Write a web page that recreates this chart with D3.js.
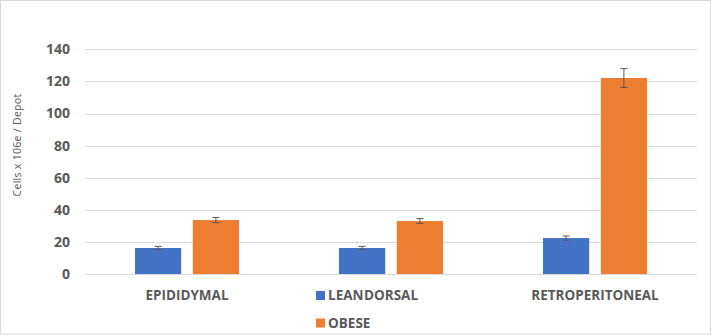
<!DOCTYPE html>
<html>
<head>
<meta charset="utf-8">
<script src="https://cdn.jsdelivr.net/npm/d3@7"></script>
<style>
  html, body { margin: 0; padding: 0; background: #fff; }
  svg { display: block; font-family: "Open Sans", "Liberation Sans", sans-serif; }
</style>
</head>
<body>
<svg id="chart" width="712" height="336"></svg>
<script>
// Adipose depots and cell counts (cells x 10^6 per depot)
const categories = ["EPIDIDYMAL", "DORSAL", "RETROPERITONEAL"];
const seriesNames = ["LEAN", "OBESE"];
const leanValues = [16.2, 16.2, 22.4];
const leanErrors = [1.0, 1.0, 1.3];
const obeseValues = [33.6, 33.0, 122.1];
const obeseErrors = [1.6, 1.5, 5.9];
const yTicks = [0, 20, 40, 60, 80, 100, 120, 140];
const colors = ["#4472C4", "#ED7D31"];

const svg = d3.select("#chart");

// chart frame
svg.append("rect")
  .attr("x", 0.5).attr("y", 0.5)
  .attr("width", 710).attr("height", 333.5)
  .attr("fill", "#fff").attr("stroke", "#d9d9d9");

const plot = { left: 85, right: 697, top: 49.3, bottom: 274 };

const x0 = d3.scaleBand()
  .domain(categories)
  .range([plot.left, plot.right])
  .paddingInner(0.49)
  .paddingOuter(0.245);

const x1 = d3.scaleBand()
  .domain(seriesNames)
  .range([0, x0.bandwidth()])
  .paddingInner(0.2);

const y = d3.scaleLinear()
  .domain([0, 140])
  .range([plot.bottom, plot.top]);

// gridlines
svg.append("g")
  .selectAll("line")
  .data(yTicks)
  .join("line")
  .attr("x1", plot.left).attr("x2", plot.right)
  .attr("y1", d => Math.round(y(d)) + 0.5)
  .attr("y2", d => Math.round(y(d)) + 0.5)
  .attr("stroke", "#d9d9d9")
  .attr("stroke-width", 1);

// y axis labels
const yAxis = d3.axisLeft(y).tickValues(yTicks).tickSize(0).tickPadding(15);
const gy = svg.append("g")
  .attr("transform", `translate(${plot.left},0)`)
  .call(yAxis);
gy.select(".domain").remove();
gy.selectAll("text")
  .attr("fill", "#595959")
  .attr("font-size", 14)
  .attr("font-weight", "bold")
  .attr("font-family", "'Open Sans', sans-serif");

// y axis title
svg.append("text")
  .attr("transform", "translate(21,145) rotate(-90)")
  .attr("text-anchor", "middle")
  .attr("fill", "#595959")
  .attr("font-size", 10.5)
  .attr("letter-spacing", 0.3)
  .text("Cells x 106e / Depot");

// bars
const rows = categories.map((c, i) => ({
  category: c,
  values: [
    { series: "LEAN", value: leanValues[i], err: leanErrors[i] },
    { series: "OBESE", value: obeseValues[i], err: obeseErrors[i] }
  ]
}));

const groups = svg.append("g")
  .selectAll("g")
  .data(rows)
  .join("g")
  .attr("transform", d => `translate(${x0(d.category)},0)`);

groups.selectAll("rect")
  .data(d => d.values)
  .join("rect")
  .attr("x", d => x1(d.series))
  .attr("width", x1.bandwidth())
  .attr("y", d => y(d.value))
  .attr("height", d => y(0) - y(d.value))
  .attr("fill", (d, i) => colors[i]);

// error bars
const eb = groups.selectAll("g.err")
  .data(d => d.values)
  .join("g")
  .attr("class", "err")
  .attr("stroke", "#595959")
  .attr("stroke-width", 1);

const cx = d => x1(d.series) + x1.bandwidth() / 2;
eb.append("line")
  .attr("x1", cx).attr("x2", cx)
  .attr("y1", d => y(d.value + d.err))
  .attr("y2", d => y(d.value - d.err));
eb.append("line")
  .attr("x1", d => cx(d) - 3.5).attr("x2", d => cx(d) + 3.5)
  .attr("y1", d => y(d.value + d.err)).attr("y2", d => y(d.value + d.err));
eb.append("line")
  .attr("x1", d => cx(d) - 3.5).attr("x2", d => cx(d) + 3.5)
  .attr("y1", d => y(d.value - d.err)).attr("y2", d => y(d.value - d.err));

// category labels
svg.append("g")
  .selectAll("text")
  .data(categories)
  .join("text")
  .attr("x", d => x0(d) + x0.bandwidth() / 2)
  .attr("y", 300)
  .attr("text-anchor", "middle")
  .attr("fill", "#595959")
  .attr("font-size", 13.5)
  .attr("font-weight", "bold")
  .text(d => d);

// legend
const legend = svg.append("g")
  .selectAll("g")
  .data(seriesNames)
  .join("g")
  .attr("transform", (d, i) => `translate(316,${291 + i * 27.5})`);
legend.append("rect")
  .attr("width", 9).attr("height", 9)
  .attr("fill", (d, i) => colors[i]);
legend.append("text")
  .attr("x", 12).attr("y", 9)
  .attr("fill", "#595959")
  .attr("font-size", 13.5)
  .attr("font-weight", "bold")
  .text(d => d);
</script>
</body>
</html>
